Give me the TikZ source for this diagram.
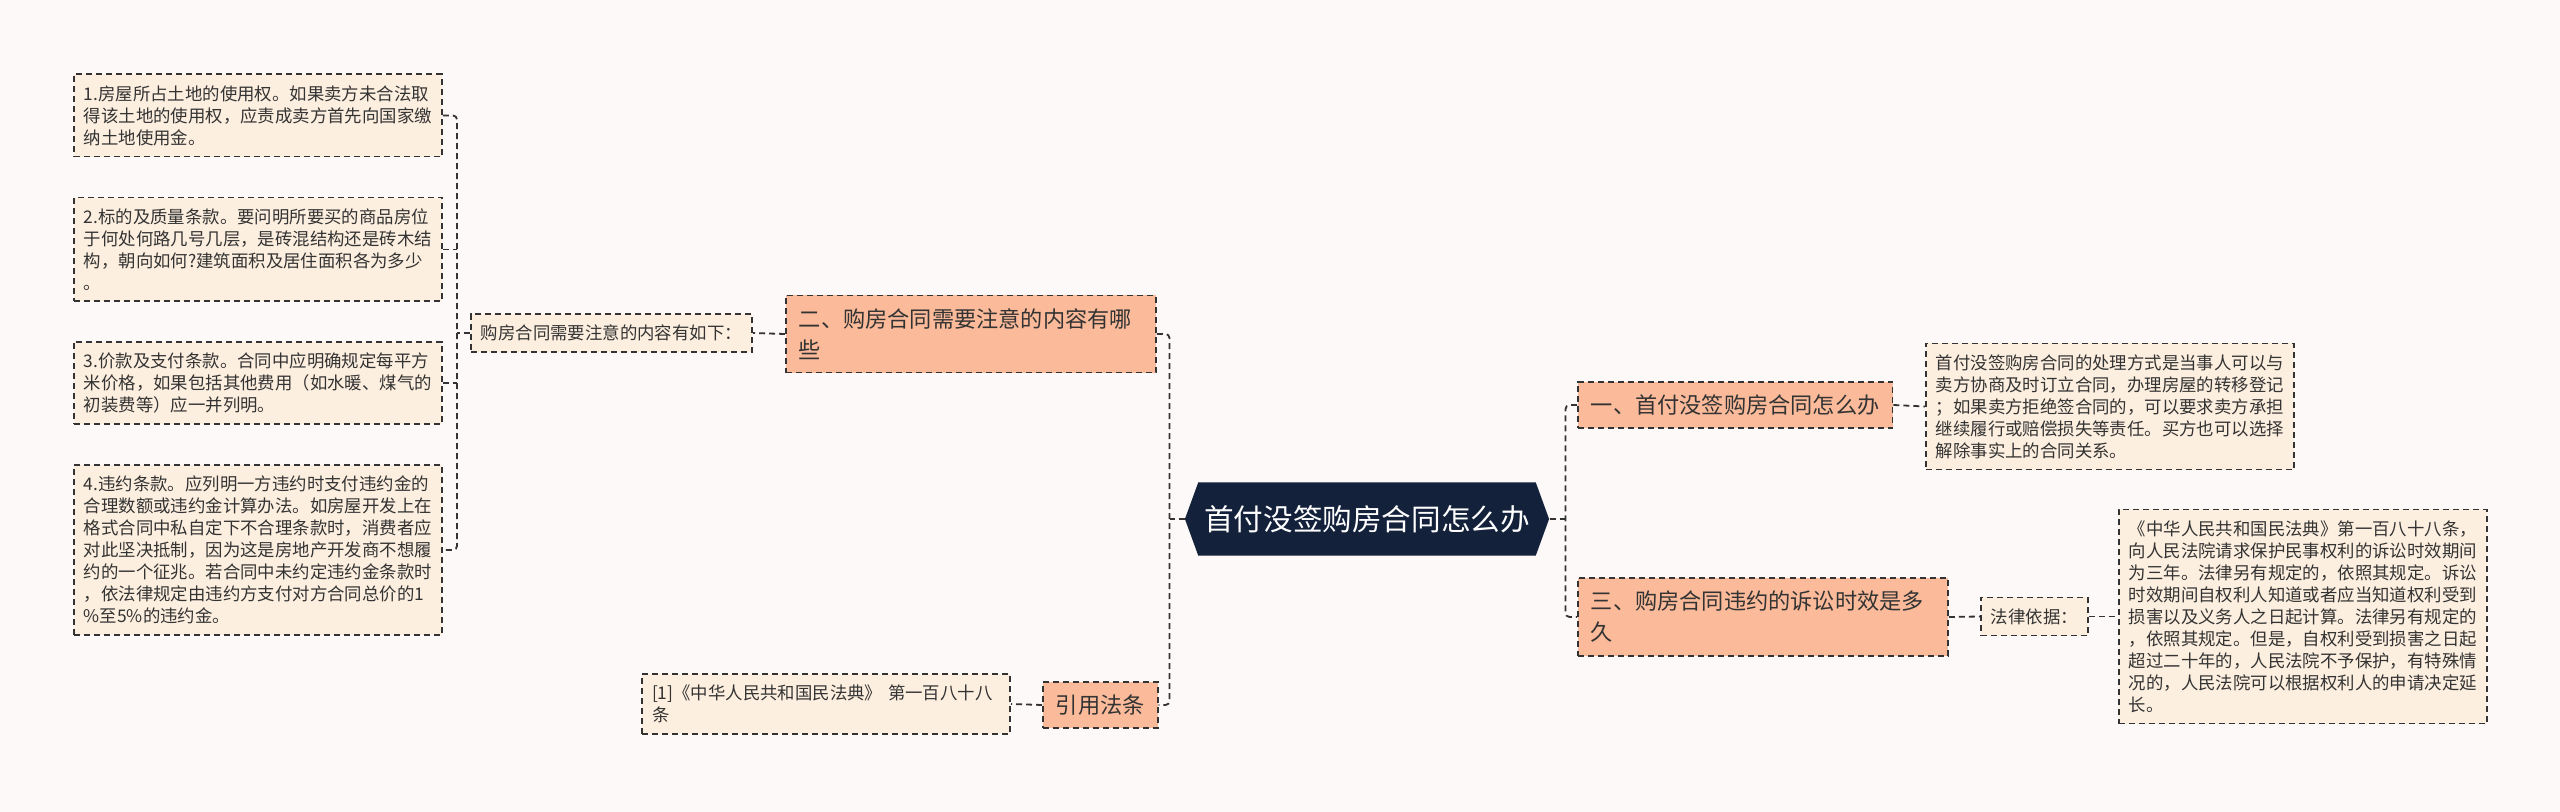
\documentclass[tikz,border=0pt]{standalone}
\usepackage{fontspec}
\setmainfont{Noto Sans CJK SC}
\usetikzlibrary{shapes.symbols, positioning}
\definecolor{pagebg}{HTML}{FDF9F8}
\definecolor{leaffill}{HTML}{FDEFDF}
\definecolor{branchfill}{HTML}{FBBB9A}
\definecolor{hubnavy}{HTML}{13213B}
\definecolor{inkgray}{HTML}{333333}

\begin{document}
\begin{tikzpicture}[
    x=0.5pt, y=-0.5pt,
    box/.style={rectangle, draw=inkgray, dash pattern=on 3pt off 2pt, line width=0.9pt, text=inkgray, align=left},
    leaf/.style={box, fill=leaffill, font=\fontsize{8.7pt}{11pt}\selectfont, inner xsep=5pt, inner ysep=5.5pt},
    note/.style={leaf, text width=174pt},
    branch/.style={box, fill=branchfill, font=\fontsize{11.1pt}{15.5pt}\selectfont, inner xsep=6.5pt, inner ysep=6.5pt},
    hub/.style={signal, signal to=west and east, signal pointer angle=140, fill=hubnavy, text=white, font=\fontsize{14.8pt}{17pt}\selectfont, minimum height=36.5pt, inner xsep=3pt},
    link/.style={draw=inkgray, dash pattern=on 3pt off 2pt, line width=0.9pt, rounded corners=2pt}
]
\useasboundingbox[fill=pagebg] (0,0) rectangle (2560,812);

% centre
\node[hub] (hub) at (1367,519) {首付没签购房合同怎么办};

% left side
\node[branch, text width=172pt, anchor=west] (two) at (785,334) {二、购房合同需要注意的内容有哪\\些};
\node[leaf, anchor=west] (lbl) at (470,333) {购房合同需要注意的内容有如下：};
\node[note, anchor=west] (item1) at (73,115.5) {1.房屋所占土地的使用权。如果卖方未合法取\\得该土地的使用权，应责成卖方首先向国家缴\\纳土地使用金。};
\node[note, anchor=west] (item2) at (73,249.5) {2.标的及质量条款。要问明所要买的商品房位\\于何处何路几号几层，是砖混结构还是砖木结\\构，朝向如何?建筑面积及居住面积各为多少\\。};
\node[note, anchor=west] (item3) at (73,383) {3.价款及支付条款。合同中应明确规定每平方\\米价格，如果包括其他费用（如水暖、煤气的\\初装费等）应一并列明。};
\node[note, anchor=west] (item4) at (73,550) {4.违约条款。应列明一方违约时支付违约金的\\合理数额或违约金计算办法。如房屋开发上在\\格式合同中私自定下不合理条款时，消费者应\\对此坚决抵制，因为这是房地产开发商不想履\\约的一个征兆。若合同中未约定违约金条款时\\，依法律规定由违约方支付对方合同总价的1\\\%至5\%的违约金。};
\node[branch, anchor=west] (cite) at (1042,705) {引用法条};
\node[note, anchor=east] (ref) at (1011,704) {[1]《中华人民共和国民法典》 第一百八十八\\条};

% right side
\node[branch, anchor=west] (one) at (1577,405) {一、首付没签购房合同怎么办};
\node[note, anchor=west] (onetxt) at (1925,406.5) {首付没签购房合同的处理方式是当事人可以与\\卖方协商及时订立合同，办理房屋的转移登记\\；如果卖方拒绝签合同的，可以要求卖方承担\\继续履行或赔偿损失等责任。买方也可以选择\\解除事实上的合同关系。};
\node[branch, text width=172pt, anchor=west] (three) at (1577,617) {三、购房合同违约的诉讼时效是多\\久};
\node[leaf, anchor=west] (basis) at (1980,616.5) {法律依据：};
\node[note, anchor=west] (law) at (2118,616.5) {《中华人民共和国民法典》第一百八十八条，\\向人民法院请求保护民事权利的诉讼时效期间\\为三年。法律另有规定的，依照其规定。诉讼\\时效期间自权利人知道或者应当知道权利受到\\损害以及义务人之日起计算。法律另有规定的\\，依照其规定。但是，自权利受到损害之日起\\超过二十年的，人民法院不予保护，有特殊情\\况的，人民法院可以根据权利人的申请决定延\\长。};

% connectors
\draw[link] (hub.west) -- ++(-15,0) coordinate (cl);
\draw[link] (two.east) -| (cl) |- (cite.east);
\draw[link] (hub.east) -- ++(16,0) coordinate (cr);
\draw[link] (one.west) -| (cr) |- (three.west);
\draw[link] (lbl.west) -- ++(-13,0) coordinate (lj);
\draw[link] (item1.east) -| (lj) |- (item4.east);
\draw[link] (item2.east) -- (item2.east -| lj);
\draw[link] (item3.east) -- (item3.east -| lj);
\draw[link] (two.west) -- (lbl.east);
\draw[link] (cite.west) -- (ref.east);
\draw[link] (one.east) -- (onetxt.west);
\draw[link] (three.east) -- (basis.west);
\draw[link] (basis.east) -- (law.west);

\end{tikzpicture}
\end{document}
